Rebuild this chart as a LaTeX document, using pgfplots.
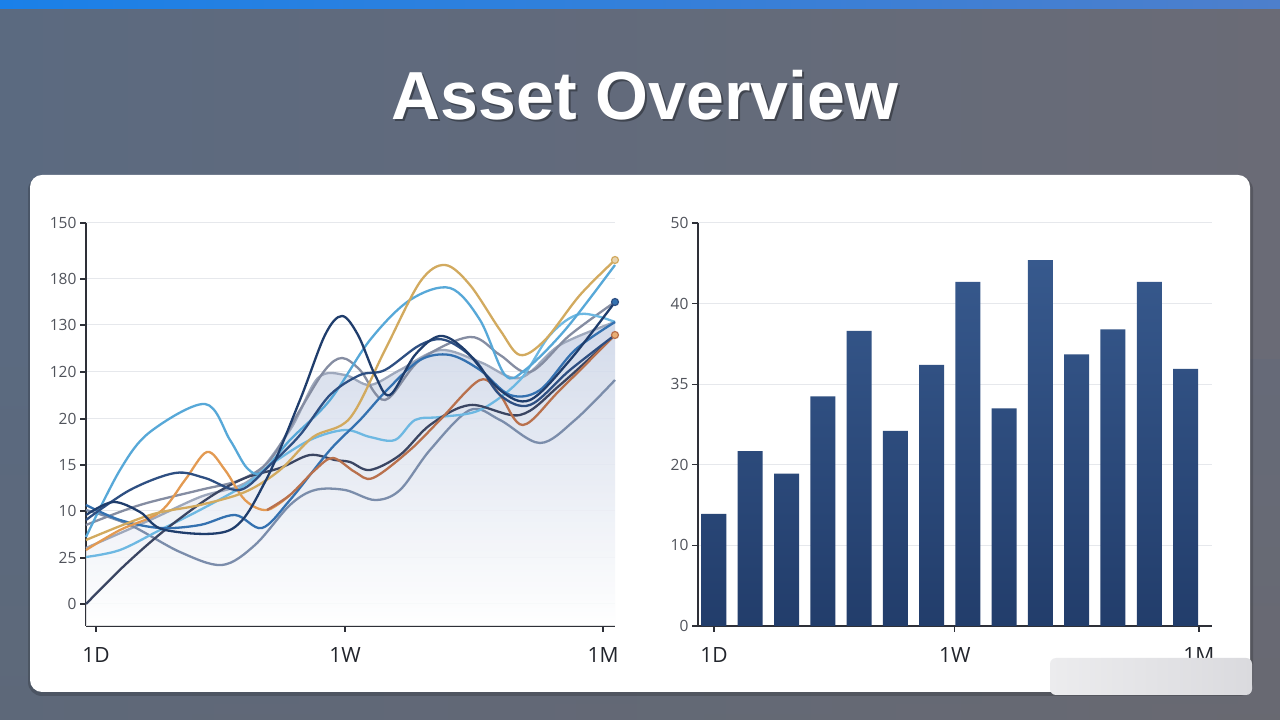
\documentclass[border=0pt]{standalone}
\usepackage{pgfplots}
\pgfplotsset{compat=1.18}
\usepackage{fontspec}
\setmainfont{Open Sans}
\newfontfamily\titlefont{Liberation Sans}
\definecolor{bgL}{HTML}{5B6A80}
\definecolor{bgR}{HTML}{6A6B76}
\definecolor{stripL}{HTML}{1A80E8}
\definecolor{stripR}{HTML}{4D7FCC}
\definecolor{axisc}{HTML}{2E3038}
\definecolor{gridc}{HTML}{E6E8EC}
\definecolor{labc}{HTML}{50535B}
\definecolor{labc2}{HTML}{22252C}
\definecolor{cNavy}{HTML}{1F3D6C}
\definecolor{cNavyM}{HTML}{2E4F82}
\definecolor{cLB}{HTML}{57A8D8}
\definecolor{cGold}{HTML}{D2AA5F}
\definecolor{cOr}{HTML}{E39A52}
\definecolor{cBr}{HTML}{B9714D}
\definecolor{cGB}{HTML}{7B8DAB}
\definecolor{cGr}{HTML}{858DA2}
\definecolor{cPl}{HTML}{9EA8BC}
\definecolor{cSl}{HTML}{3A4562}
\definecolor{cSB}{HTML}{3471B0}
\definecolor{cLB2}{HTML}{6DB8E2}
\definecolor{areaTop}{HTML}{CCD5E7}
\definecolor{barTop}{HTML}{37598D}
\definecolor{barBot}{HTML}{223D6B}
\definecolor{smudge}{HTML}{ECECEE}
\definecolor{smudgeR}{HTML}{DADADE}
\begin{document}
\begin{tikzpicture}[x=1pt,y=1pt]
% background
\shade[left color=bgL, right color=bgR] (0pt,0pt) rectangle (1280pt,720pt);
\shade[bottom color=black!60, top color=bgL, opacity=0.25] (0pt,0pt) rectangle (1280pt,360pt);
\shade[left color=stripL, right color=stripR] (0pt,711pt) rectangle (1280pt,720pt);
% panel
\fill[black, opacity=0.18, rounded corners=14pt] (28pt,24pt) rectangle (1253pt,544pt);
\fill[white, rounded corners=12pt] (30pt,28pt) rectangle (1250pt,545pt);
% title
\node[anchor=base, text=black, opacity=0.35] at (647pt,598pt) {\titlefont\bfseries\fontsize{68}{70}\selectfont Asset Overview};
\node[anchor=base, text=white] at (645pt,600pt) {\titlefont\bfseries\fontsize{68}{70}\selectfont Asset Overview};

% ---------------- left line chart ----------------
\begin{axis}[at={(86pt,94pt)}, anchor=south west, scale only axis,
  width=529pt, height=403pt,
  xmin=86, xmax=615, ymin=0, ymax=403,
  axis lines=left, axis line style={-, draw=axisc, line width=1.3pt},
  xtick={96,345,603}, xticklabels={1D,1W,1M},
  ytick={22,68,115,161,207,254,301,347,403},
  yticklabels={0,25,10,15,20,120,130,180,150},
  tick align=outside, major tick length=6pt,
  tick style={draw=axisc, line width=1.2pt},
  ymajorgrids, grid style={gridc, line width=1pt},
  yticklabel style={font=\fontsize{15.5}{16}\selectfont, text=labc},
  xticklabel style={font=\fontsize{21}{22}\selectfont, text=labc2, yshift=-12pt},
  clip=false,
  every axis plot/.append style={smooth, tension=0.55, line width=2.3pt}]
\addplot[draw=none, top color=areaTop, bottom color=white, opacity=0.85] coordinates {(86,78)(150,106)(200,129)(250,146)(290,196)(318,248)(345,251)(370,241)(400,256)(440,276)(480,264)(520,248)(560,281)(615,304)} \closedcycle;
\addplot[cPl] coordinates {(86,78)(150,106)(200,129)(250,146)(290,196)(318,248)(345,251)(370,241)(400,256)(440,276)(480,264)(520,248)(560,281)(615,304)};
\addplot[cGB] coordinates {(86,116)(130,101)(180,74)(222,61)(255,81)(290,121)(315,136)(345,136)(375,126)(400,136)(430,176)(470,216)(500,206)(540,183)(575,206)(615,246)};
\addplot[cGr] coordinates {(86,101)(140,121)(200,136)(240,146)(270,166)(300,216)(325,256)(342,268)(360,256)(385,226)(420,266)(470,289)(500,271)(530,254)(570,291)(615,324)};
\addplot[cLB2] coordinates {(86,69)(120,76)(160,96)(200,116)(245,141)(270,161)(310,186)(345,196)(370,189)(395,186)(415,206)(440,209)(480,216)(520,246)(550,291)(580,312)(615,304)};
\addplot[cSl] coordinates {(86,22)(125,61)(165,96)(210,129)(245,148)(280,158)(310,171)(335,166)(350,164)(370,156)(400,171)(430,201)(470,221)(520,211)(560,241)(615,291)};
\addplot[cSB] coordinates {(86,121)(120,106)(160,98)(200,101)(235,111)(262,98)(290,126)(330,176)(360,206)(387,236)(420,266)(450,271)(480,256)(510,231)(540,236)(575,276)(615,304)};
\addplot[cOr] coordinates {(86,76)(120,96)(160,114)(185,146)(207,174)(225,156)(245,126)(267,116)(290,131)};
\addplot[cBr] coordinates {(267,116)(290,131)(315,156)(333,168)(355,154)(373,148)(410,176)(440,206)(480,246)(500,231)(523,201)(560,236)(615,291)};
\addplot[cLB] coordinates {(86,89)(120,156)(150,194)(205,222)(230,186)(247,158)(262,154)(290,186)(330,226)(370,286)(410,326)(450,338)(480,306)(505,251)(525,256)(565,296)(615,361)};
\addplot[cGold] coordinates {(86,86)(150,111)(200,121)(245,134)(280,156)(313,189)(350,208)(385,276)(420,344)(445,361)(470,341)(500,296)(520,271)(545,286)(580,331)(615,366)};
\addplot[cNavyM] coordinates {(86,106)(130,136)(175,153)(205,148)(240,136)(270,161)(300,191)(330,231)(360,251)(385,256)(420,281)(445,286)(475,266)(500,231)(530,221)(570,256)(615,291)};
\addplot[cNavy] coordinates {(86,111)(113,124)(140,114)(165,96)(230,96)(265,144)(300,226)(325,291)(342,310)(358,291)(375,251)(390,231)(415,271)(440,290)(465,276)(500,236)(530,226)(570,266)(615,324)};
\addplot[only marks, mark=*, mark size=3.5pt, mark options={fill=cGold!50, draw=cGold, line width=1.2pt}] coordinates {(615,366)};
\addplot[only marks, mark=*, mark size=3.5pt, mark options={fill=cSB, draw=cNavyM, line width=1.2pt}] coordinates {(615,324)};
\addplot[only marks, mark=*, mark size=3.5pt, mark options={fill=cOr!80, draw=cBr, line width=1.2pt}] coordinates {(615,291)};
\end{axis}

% ---------------- right bar chart ----------------
\begin{axis}[at={(698pt,94pt)}, anchor=south west, scale only axis,
  width=514pt, height=403pt,
  xmin=-0.44, xmax=13.73, ymin=0, ymax=50,
  axis lines=left, axis line style={-, draw=axisc, line width=1.3pt},
  xtick={0,6.64,13.37}, xticklabels={1D,1W,1M},
  ytick={0,10,20,30,40,50}, yticklabels={0,10,20,35,40,50},
  tick align=outside, major tick length=6pt,
  tick style={draw=axisc, line width=1.2pt},
  ymajorgrids, grid style={gridc, line width=1pt},
  yticklabel style={font=\fontsize{15.5}{16}\selectfont, text=labc},
  xticklabel style={font=\fontsize{21}{22}\selectfont, text=labc2, yshift=-12pt},
  ybar, bar width=25pt]
\addplot[draw=none, top color=barTop, bottom color=barBot] coordinates {
(0,13.9)(1,21.7)(2,18.9)(3,28.5)(4,36.6)(5,24.2)(6,32.4)(7,42.7)(8,27.0)(9,45.4)(10,33.7)(11,36.8)(12,42.7)(13,31.9)};
\end{axis}
% bottom-right smudge
\shade[left color=smudge, right color=smudgeR, rounded corners=6pt] (1050pt,25pt) rectangle (1252pt,62pt);
\end{tikzpicture}
\end{document}
